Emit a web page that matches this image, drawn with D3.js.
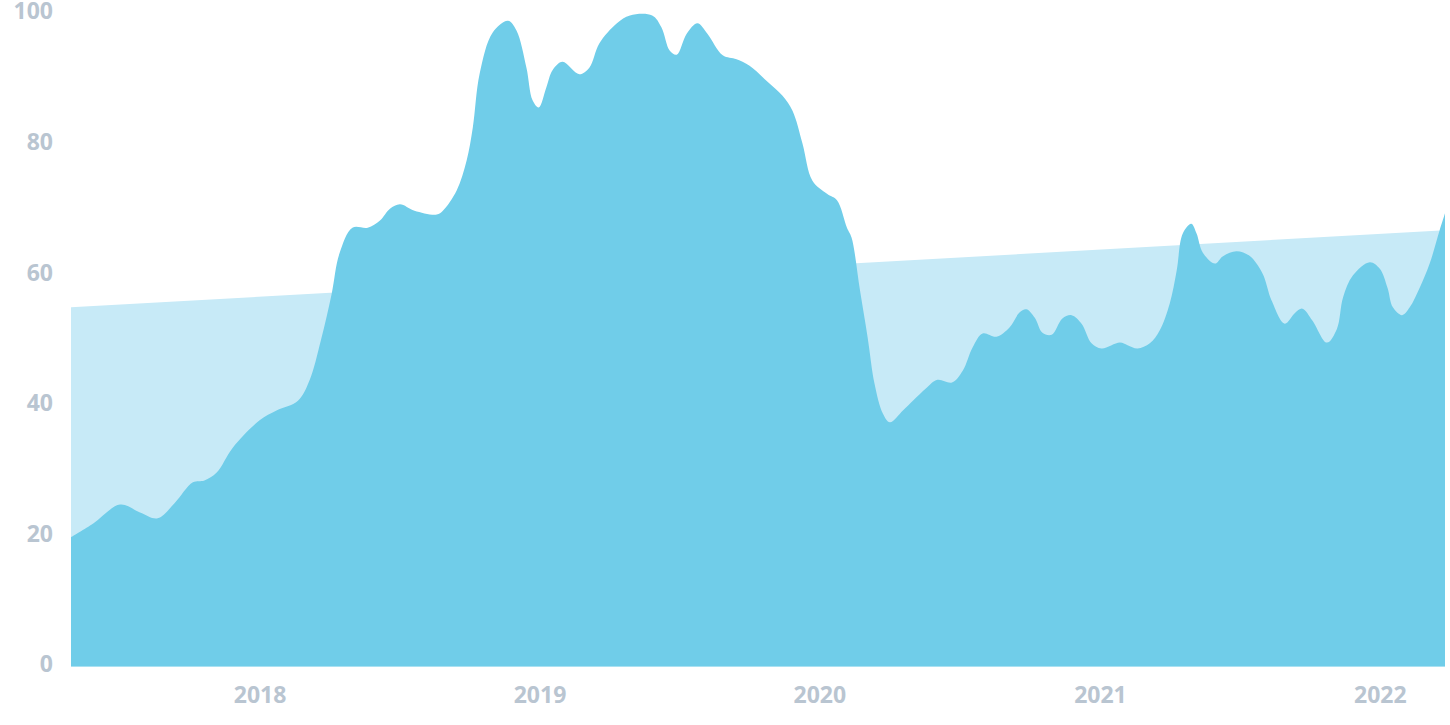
<!DOCTYPE html>
<html>
<head>
<meta charset="utf-8">
<script src="https://cdn.jsdelivr.net/npm/d3@7"></script>
<style>
  html, body { margin: 0; padding: 0; background: #ffffff; }
  svg { display: block; }
  .tick text { font-family: "Open Sans", "Noto Sans", sans-serif; font-weight: 700; fill: #b9c5d1; }
</style>
</head>
<body>
<svg id="chart" width="1450" height="725"></svg>
<script>
// ---- data ----
const seriesDates = [
  "2017-04-30","2017-05-29","2017-07-03","2017-07-29","2017-08-21","2017-09-12","2017-10-06","2017-10-21",
  "2017-11-06","2017-11-27","2018-01-01","2018-01-23","2018-02-20","2018-03-07","2018-03-22","2018-04-05",
  "2018-04-15","2018-05-02","2018-05-22","2018-06-07","2018-06-20","2018-07-03","2018-07-22","2018-08-20",
  "2018-08-28","2018-09-15","2018-09-28","2018-10-06","2018-10-15","2018-11-01","2018-11-21","2018-12-02",
  "2018-12-15","2018-12-23","2018-12-31","2019-01-10","2019-01-18","2019-01-31","2019-02-22","2019-03-07",
  "2019-03-20","2019-04-12","2019-04-29","2019-05-28","2019-06-09","2019-06-20","2019-06-29","2019-07-12",
  "2019-07-26","2019-08-08","2019-08-28","2019-09-15","2019-10-02","2019-10-24","2019-11-14","2019-11-27",
  "2019-12-10","2019-12-23","2020-01-11","2020-01-24","2020-02-06","2020-02-12","2020-02-23","2020-03-04",
  "2020-03-13","2020-03-24","2020-04-02","2020-04-19","2020-05-02","2020-05-20","2020-06-03","2020-06-22",
  "2020-07-06","2020-07-19","2020-08-01","2020-08-19","2020-09-05","2020-09-18","2020-09-27","2020-10-08",
  "2020-10-18","2020-10-30","2020-11-13","2020-11-25","2020-12-08","2020-12-21","2021-01-03","2021-01-27",
  "2021-02-06","2021-02-19","2021-03-07","2021-03-20","2021-04-02","2021-04-11","2021-04-19","2021-04-30",
  "2021-05-07","2021-05-15","2021-05-31","2021-06-10","2021-06-28","2021-07-15","2021-08-01","2021-08-13",
  "2021-08-30","2021-09-12","2021-09-22","2021-10-05","2021-10-24","2021-11-06","2021-11-14","2021-11-27",
  "2021-12-19","2022-01-01","2022-01-11","2022-01-18","2022-01-30","2022-02-09","2022-02-22","2022-03-07",
  "2022-03-20","2022-03-27"
];
const seriesValues = [
  19.8, 21.9, 24.8, 23.6, 22.7, 25.0, 28.2, 28.5,
  29.7, 33.5, 37.7, 39.2, 40.7, 43.8, 50.0, 57.1,
  63.2, 67.2, 67.2, 68.3, 70.1, 70.8, 69.8, 69.2,
  69.8, 72.9, 77.5, 82.5, 90.8, 97.1, 98.9, 97.4,
  91.7, 86.7, 85.6, 88.7, 91.3, 92.6, 90.7, 91.7,
  95.4, 98.5, 99.7, 99.7, 97.9, 94.3, 93.7, 96.9,
  98.5, 96.9, 93.6, 93.0, 92.0, 89.7, 87.4, 85.1,
  80.1, 74.4, 72.4, 71.4, 67.2, 65.7, 57.6, 50.4,
  43.3, 38.7, 37.4, 39.2, 40.7, 42.7, 43.9, 43.5,
  45.3, 48.9, 51.0, 50.5, 51.9, 54.2, 54.7, 53.4,
  51.1, 50.8, 53.3, 53.8, 52.5, 49.5, 48.7, 49.6,
  49.2, 48.7, 49.5, 51.5, 55.6, 60.6, 66.3, 67.8,
  66.3, 63.4, 61.7, 62.8, 63.6, 62.9, 60.2, 56.0,
  52.5, 54.1, 54.8, 53.0, 49.6, 51.7, 56.5, 59.9,
  61.9, 60.9, 58.0, 55.0, 53.8, 55.0, 58.0, 61.7,
  66.8, 69.4
];
const trendDates = ["2017-04-30", "2022-03-27"];
const trendValues = [55.0, 66.8];
const yTicks = [0, 20, 40, 60, 80, 100];
const xTickDates = ["2018-01-01", "2019-01-01", "2020-01-01", "2021-01-01", "2022-01-01"];

// ---- chart ----
const parse = d3.utcParse("%Y-%m-%d");
const series = seriesDates.map((d, i) => ({ date: parse(d), value: seriesValues[i] }));
const trend = trendDates.map((d, i) => ({ date: parse(d), value: trendValues[i] }));

const margin = { left: 71, right: 5, top: 13.5, bottom: 58.5 };
const W = 1450, H = 725;
const svg = d3.select("#chart");

const x = d3.scaleUtc()
  .domain([parse(seriesDates[0]), parse(seriesDates[seriesDates.length - 1])])
  .range([margin.left, W - margin.right]);
const y = d3.scaleLinear().domain([0, 100]).range([H - margin.bottom, margin.top]);

const trendArea = d3.area()
  .x(d => x(d.date)).y0(y(0)).y1(d => y(d.value));
svg.append("path").datum(trend)
  .attr("d", trendArea)
  .attr("fill", "#c7eaf7");

const mainArea = d3.area()
  .curve(d3.curveCatmullRom.alpha(0.5))
  .x(d => x(d.date)).y0(y(0)).y1(d => y(d.value));
svg.append("path").datum(series)
  .attr("d", mainArea)
  .attr("fill", "#70cde9");

const yAxis = svg.append("g")
  .attr("transform", `translate(${margin.left - 18},0)`)
  .call(d3.axisLeft(y).tickValues(yTicks).tickSize(0).tickPadding(0));
yAxis.select(".domain").remove();
yAxis.selectAll("text").attr("font-size", 23).attr("dy", "0.32em").attr("y", -2);

const xAxis = svg.append("g")
  .attr("transform", `translate(0,${H - margin.bottom})`)
  .call(d3.axisBottom(x).tickValues(xTickDates.map(parse)).tickFormat(d3.utcFormat("%Y")).tickSize(0).tickPadding(0));
xAxis.select(".domain").remove();
xAxis.selectAll("text").attr("font-size", 23).attr("dy", 0).attr("y", 36.5);
</script>
</body>
</html>
